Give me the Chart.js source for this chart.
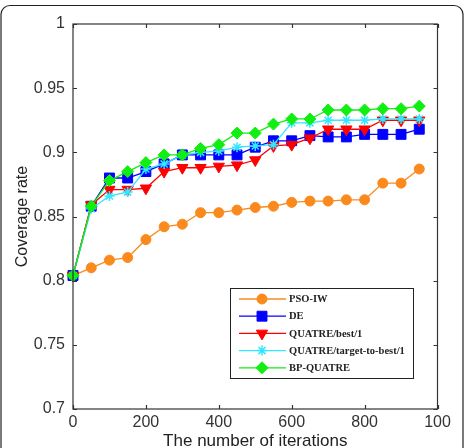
<!DOCTYPE html>
<html>
<head>
<meta charset="utf-8">
<script src="https://cdn.jsdelivr.net/npm/chart.js@4/dist/chart.umd.min.js"></script>
<style>
    html, body { margin: 0; padding: 0; background: #fff; }
    #wrap { position: relative; width: 465px; height: 448px; overflow: hidden; }
    canvas { display: block; }
</style>
</head>
<body>
<div id="wrap"><canvas id="canvas" width="465" height="448"></canvas></div>
<script>
// iterations sampled every 50
const iterations = [0, 50, 100, 150, 200, 250, 300, 350, 400, 450, 500, 550, 600, 650, 700, 750, 800, 850, 900, 950];

const psoIw = [0.804, 0.810, 0.816, 0.818, 0.832, 0.842, 0.844, 0.853, 0.853, 0.855, 0.857, 0.858, 0.861, 0.862, 0.862, 0.863, 0.863, 0.876, 0.876, 0.887];
const de = [0.804, 0.858, 0.880, 0.880, 0.885, 0.891, 0.898, 0.898, 0.898, 0.898, 0.904, 0.909, 0.909, 0.913, 0.912, 0.912, 0.914, 0.914, 0.914, 0.918];
const quatreBest = [0.804, 0.859, 0.871, 0.871, 0.872, 0.885, 0.888, 0.888, 0.889, 0.890, 0.894, 0.905, 0.906, 0.911, 0.918, 0.918, 0.918, 0.925, 0.925, 0.925];
const quatreTarget = [0.804, 0.856, 0.866, 0.869, 0.887, 0.891, 0.898, 0.900, 0.901, 0.904, 0.905, 0.906, 0.923, 0.923, 0.925, 0.925, 0.925, 0.926, 0.926, 0.926];
const bpQuatre = [0.804, 0.858, 0.878, 0.885, 0.892, 0.898, 0.898, 0.903, 0.906, 0.915, 0.915, 0.922, 0.926, 0.926, 0.933, 0.933, 0.933, 0.934, 0.934, 0.936];

const seriesNames = ['PSO-IW', 'DE', 'QUATRE/best/1', 'QUATRE/target-to-best/1', 'BP-QUATRE'];

const xTicks = [0, 200, 400, 600, 800, 1000];
const xTickLabels = ['0', '200', '400', '600', '800', '100'];
const yTicks = [0.7, 0.75, 0.8, 0.85, 0.9, 0.95, 1];
const yTickLabels = ['0.7', '0.75', '0.8', '0.85', '0.9', '0.95', '1'];

const narrow = '"Liberation Sans Narrow", "Arial Narrow", "Liberation Sans", Arial, sans-serif';
const tickFont = { family: narrow, size: 16 };
const titleFont = { family: narrow, size: 17, lineHeight: 1 };

function toPoints(values) {
    return values.map((v, i) => ({ x: iterations[i], y: v }));
}

function makeDataset(label, values, color, style, radius, order, extra) {
    return Object.assign({
        label: label,
        data: toPoints(values),
        borderColor: color,
        backgroundColor: color,
        borderWidth: 1.3,
        pointStyle: style,
        pointRadius: radius,
        pointHoverRadius: radius,
        pointBorderWidth: 1,
        pointBackgroundColor: color,
        pointBorderColor: color,
        tension: 0,
        clip: false,
        order: order,
    }, extra || {});
}

const datasets = [
    makeDataset(seriesNames[0], psoIw, '#fa8a1e', 'circle', 5, 4),
    makeDataset(seriesNames[1], de, '#0000ff', 'rect', 7, 3),
    makeDataset(seriesNames[2], quatreBest, '#ff0000', 'triangle', 6.5, 2, { pointRotation: 180 }),
    makeDataset(seriesNames[3], quatreTarget, '#33e6ff', 'star', 5, 1, { pointBorderWidth: 1.5 }),
    makeDataset(seriesNames[4], bpQuatre, '#11ee11', 'rectRot', 6, 0),
];

// outer rounded border, axes box with inward ticks
const framePlugin = {
    id: 'frame',
    beforeDraw(chart) {
        const ctx = chart.ctx;
        ctx.save();
        ctx.strokeStyle = '#222';
        ctx.lineWidth = 1.2;
        ctx.beginPath();
        ctx.roundRect(1, 5.5, 462, 470, 9);
        ctx.stroke();
        ctx.restore();
    },
    afterDatasetsDraw(chart) {
        const ctx = chart.ctx;
        const a = chart.chartArea;
        const xs = chart.scales.x;
        const ys = chart.scales.y;
        ctx.save();
        ctx.strokeStyle = '#333';
        ctx.lineWidth = 1.2;
        ctx.strokeRect(a.left, a.top, a.right - a.left, a.bottom - a.top);
        ctx.beginPath();
        xTicks.forEach(t => {
            const px = Math.round(xs.getPixelForValue(t)) + 0.5;
            ctx.moveTo(px, a.bottom); ctx.lineTo(px, a.bottom - 4);
            ctx.moveTo(px, a.top); ctx.lineTo(px, a.top + 4);
        });
        yTicks.forEach(t => {
            const py = Math.round(ys.getPixelForValue(t)) + 0.5;
            ctx.moveTo(a.left, py); ctx.lineTo(a.left + 4, py);
            ctx.moveTo(a.right, py); ctx.lineTo(a.right - 4, py);
        });
        ctx.stroke();
        ctx.restore();
    }
};

// MATLAB style legend box with line + marker samples
const legendPlugin = {
    id: 'boxLegend',
    afterDraw(chart) {
        const ctx = chart.ctx;
        const box = { x: 230.5, y: 288.5, w: 183, h: 90 };
        ctx.save();
        ctx.fillStyle = '#fff';
        ctx.fillRect(box.x, box.y, box.w, box.h);
        ctx.strokeStyle = '#222';
        ctx.lineWidth = 1;
        ctx.strokeRect(box.x, box.y, box.w, box.h);
        ctx.font = 'bold 10.5px "Liberation Serif", "Times New Roman", serif';
        ctx.textBaseline = 'middle';
        chart.data.datasets.forEach((ds, i) => {
            const y = 299 + i * 17.2;
            ctx.strokeStyle = ds.borderColor;
            ctx.lineWidth = ds.borderWidth;
            ctx.beginPath();
            ctx.moveTo(239, y);
            ctx.lineTo(286, y);
            ctx.stroke();
            ctx.fillStyle = ds.pointBackgroundColor;
            ctx.strokeStyle = ds.pointBorderColor;
            ctx.lineWidth = ds.pointBorderWidth;
            Chart.helpers.drawPoint(ctx, {
                pointStyle: ds.pointStyle,
                radius: ds.pointRadius,
                rotation: ds.pointRotation || 0,
                borderWidth: ds.pointBorderWidth,
            }, 262, y);
            ctx.fillStyle = '#222';
            ctx.fillText(ds.label, 289, y + 0.5);
        });
        ctx.restore();
    }
};

const chartConfig = {
    type: 'line',
    data: { datasets: datasets },
    options: {
        responsive: false,
        animation: false,
        devicePixelRatio: 1,
        layout: { padding: { top: 24, right: 27.5, left: 0, bottom: 0 } },
        plugins: {
            legend: { display: false },
            tooltip: { enabled: false },
        },
        scales: {
            x: {
                type: 'linear',
                min: 0,
                max: 1000,
                afterBuildTicks: scale => { scale.ticks = xTicks.map(v => ({ value: v })); },
                afterFit: scale => { scale.height = 39; },
                grid: { display: false, drawTicks: false },
                border: { display: false },
                ticks: {
                    color: '#333',
                    font: tickFont,
                    padding: 4,
                    maxRotation: 0,
                    autoSkip: false,
                    callback: v => xTickLabels[xTicks.indexOf(v)],
                },
                title: {
                    display: true,
                    text: 'The number of iterations',
                    color: '#222',
                    font: titleFont,
                    padding: { top: 0, bottom: -2 },
                },
            },
            y: {
                type: 'linear',
                min: 0.7,
                max: 1,
                afterBuildTicks: scale => { scale.ticks = yTicks.map(v => ({ value: v })); },
                afterFit: scale => { scale.width = 73; },
                grid: { display: false, drawTicks: false },
                border: { display: false },
                ticks: {
                    color: '#333',
                    font: tickFont,
                    padding: 8,
                    autoSkip: false,
                    callback: v => yTickLabels[yTicks.findIndex(t => Math.abs(t - v) < 1e-9)],
                },
                title: {
                    display: true,
                    text: 'Coverage rate',
                    color: '#222',
                    font: { family: narrow, size: 16, lineHeight: 1 },
                    padding: { top: 15, bottom: 0 },
                },
            },
        },
    },
    plugins: [framePlugin, legendPlugin],
};

const chart = new Chart(document.getElementById('canvas'), chartConfig);
</script>
</body>
</html>
